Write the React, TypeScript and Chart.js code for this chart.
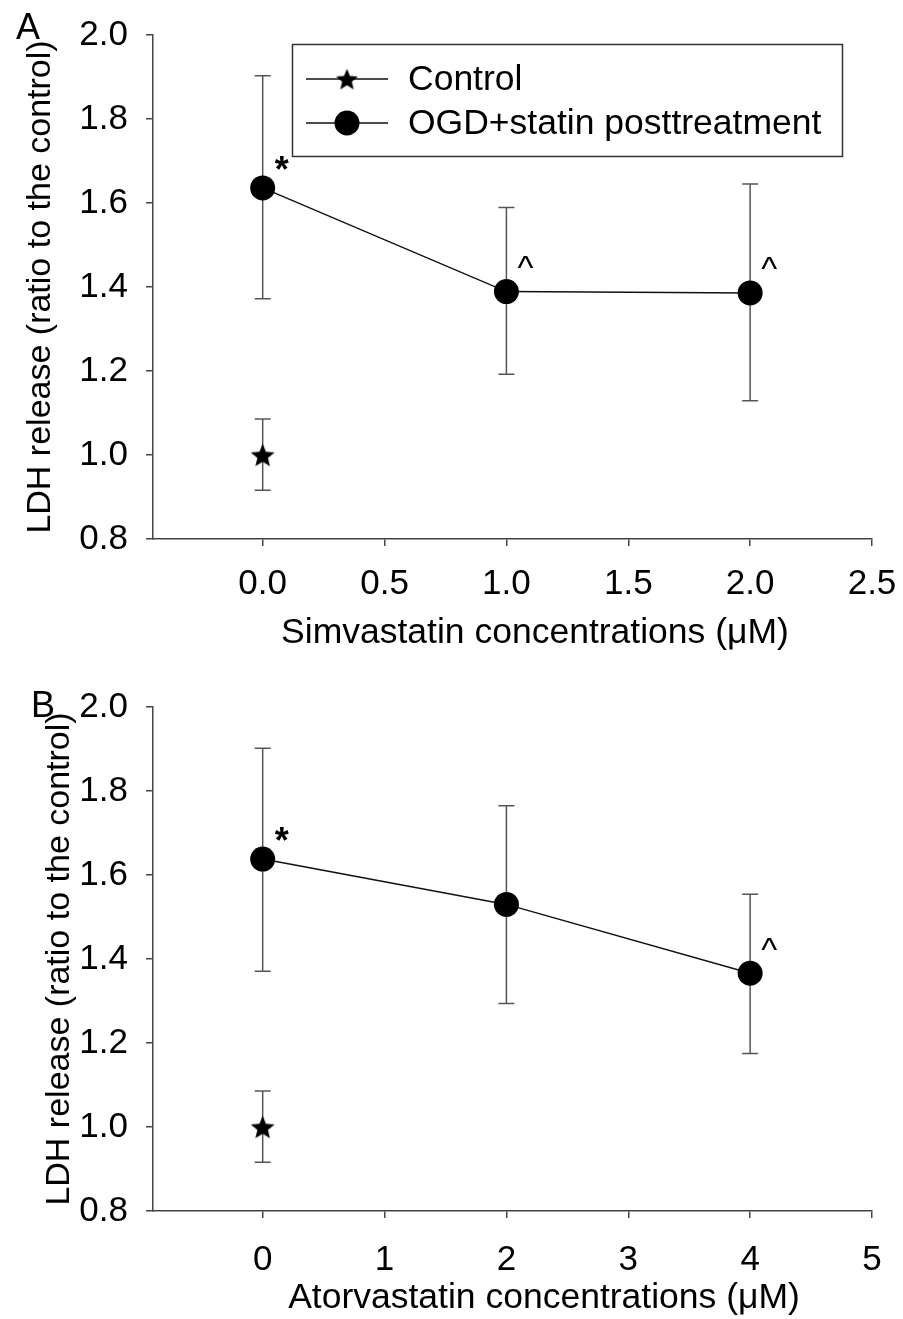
import React, { useEffect, useRef } from 'react';
import { Chart, registerables } from 'chart.js';
Chart.register(...registerables);

// ---- data ----
const simConc = [0, 1, 2];
const simMean = [1.636, 1.389, 1.386];
const simHigh = [1.903, 1.589, 1.645];
const simLow = [1.372, 1.192, 1.129];
const simMarks = ['*', '^', '^'];

const atorConc = [0, 2, 4];
const atorMean = [1.638, 1.53, 1.366];
const atorHigh = [1.902, 1.765, 1.554];
const atorLow = [1.371, 1.294, 1.175];
const atorMarks = ['*', '', '^'];

const controlConc = [0];
const controlMean = [1.0];
const controlHigh = [1.086];
const controlLow = [0.916];

const yTicks = [0.8, 1.0, 1.2, 1.4, 1.6, 1.8, 2.0];
const simTicks = [0, 0.5, 1.0, 1.5, 2.0, 2.5];
const atorTicks = [0, 1, 2, 3, 4, 5];

const legendLabels = ['Control', 'OGD+statin posttreatment'];
const yTitle = 'LDH release (ratio to the control)';
const simTitle = 'Simvastatin concentrations (\u03BCM)';
const atorTitle = 'Atorvastatin concentrations (\u03BCM)';

const FONT = '"Liberation Sans", Arial, Helvetica, sans-serif';
const AXIS = '#444';
const CANVAS_W = 903;
const CANVAS_H = 660;

function makeStar(r: number) {
  const size = Math.ceil(r * 2 + 2);
  const c = document.createElement('canvas');
  c.width = size;
  c.height = size;
  const ctx = c.getContext('2d')!;
  ctx.fillStyle = '#000';
  ctx.beginPath();
  for (let i = 0; i < 10; i++) {
    const rad = i % 2 === 0 ? r : r * 0.44;
    const a = -Math.PI / 2 + (i * Math.PI) / 5;
    const px = size / 2 + rad * Math.cos(a);
    const py = size / 2 + rad * Math.sin(a) + r * 0.1;
    if (i === 0) ctx.moveTo(px, py);
    else ctx.lineTo(px, py);
  }
  ctx.closePath();
  ctx.fill();
  return c;
}

type PanelCfg = {
  top: number;
  letter: string;
  letterX: number;
  letterY: number;
  yTitleX: number;
  xTitle: string;
  xTitleX: number;
  xTitleOffset: number;
  xTickPad: number;
  areaTop: number;
  areaBottom: number;
  xMin: number;
  xMax: number;
  xTicks: number[];
  decimals: number;
  conc: number[];
  mean: number[];
  high: number[];
  low: number[];
  marks: string[];
  legend: boolean;
};

function Panel({ cfg }: { cfg: PanelCfg }) {
  const ref = useRef<HTMLCanvasElement>(null);
  useEffect(() => {
    const star = makeStar(12.5);
    const legendStar = makeStar(11.5);
    const plugin = {
      id: 'extras',
      beforeDatasetsDraw(chart: any) {
        const ctx = chart.ctx;
        const xs = chart.scales.x;
        const ys = chart.scales.y;
        ctx.save();
        ctx.strokeStyle = '#555';
        ctx.lineWidth = 1.5;
        const drawBars = (conc: number[], hi: number[], lo: number[]) => {
          conc.forEach((c, i) => {
            const px = xs.getPixelForValue(c);
            const pt = ys.getPixelForValue(hi[i]);
            const pb = ys.getPixelForValue(lo[i]);
            ctx.beginPath();
            ctx.moveTo(px, pt);
            ctx.lineTo(px, pb);
            ctx.moveTo(px - 8, pt);
            ctx.lineTo(px + 8, pt);
            ctx.moveTo(px - 8, pb);
            ctx.lineTo(px + 8, pb);
            ctx.stroke();
          });
        };
        drawBars(controlConc, controlHigh, controlLow);
        drawBars(cfg.conc, cfg.high, cfg.low);
        ctx.restore();
      },
      afterDraw(chart: any) {
        const ctx = chart.ctx;
        const area = chart.chartArea;
        const xs = chart.scales.x;
        const ys = chart.scales.y;
        ctx.save();
        ctx.fillStyle = '#000';
        // panel letter
        ctx.font = `36px ${FONT}`;
        ctx.textAlign = 'center';
        ctx.textBaseline = 'middle';
        ctx.fillText(cfg.letter, cfg.letterX, cfg.letterY);
        // x title
        ctx.font = `35.5px ${FONT}`;
        ctx.fillText(cfg.xTitle, cfg.xTitleX, area.bottom + cfg.xTitleOffset);
        // y title
        ctx.font = `34px ${FONT}`;
        ctx.save();
        ctx.translate(cfg.yTitleX, (area.top + area.bottom) / 2);
        ctx.rotate(-Math.PI / 2);
        ctx.fillText(yTitle, 0, 0);
        ctx.restore();
        // significance marks
        cfg.conc.forEach((c, i) => {
          const m = cfg.marks[i];
          if (!m) return;
          const px = xs.getPixelForValue(c);
          const py = ys.getPixelForValue(cfg.mean[i]);
          if (m === '*') {
            ctx.font = `bold 36px ${FONT}`;
            ctx.fillText(m, px + 19, py - 16);
          } else {
            ctx.font = `34px ${FONT}`;
            ctx.fillText(m, px + 19, py - 22);
          }
        });
        // legend
        if (cfg.legend) {
          ctx.strokeStyle = '#333';
          ctx.lineWidth = 1.5;
          ctx.strokeRect(292.5, 44.5, 550, 112);
          const rows = [79, 123];
          rows.forEach((ry, i) => {
            ctx.strokeStyle = '#111';
            ctx.beginPath();
            ctx.moveTo(306, ry);
            ctx.lineTo(388, ry);
            ctx.stroke();
            if (i === 0) {
              ctx.drawImage(legendStar, 347 - legendStar.width / 2, ry - legendStar.height / 2);
            } else {
              ctx.beginPath();
              ctx.arc(347, ry, 12.5, 0, Math.PI * 2);
              ctx.fill();
            }
            ctx.font = `35.5px ${FONT}`;
            ctx.textAlign = 'left';
            ctx.textBaseline = 'middle';
            ctx.fillText(legendLabels[i], 408, ry + 1);
          });
        }
        ctx.restore();
      },
    };

    const chart = new Chart(ref.current!, {
      type: 'scatter',
      data: {
        datasets: [
          {
            label: legendLabels[1],
            data: cfg.conc.map((c, i) => ({ x: c, y: cfg.mean[i] })),
            showLine: true,
            borderColor: '#111',
            borderWidth: 1.5,
            pointRadius: 12.5,
            pointBackgroundColor: '#000',
            pointBorderColor: '#000',
            pointBorderWidth: 0,
          },
          {
            label: legendLabels[0],
            data: controlConc.map((c, i) => ({ x: c, y: controlMean[i] })),
            showLine: false,
            pointStyle: star as any,
            pointRadius: 12.5,
          },
        ],
      },
      options: {
        responsive: false,
        animation: false,
        events: [],
        layout: { padding: { left: 0, right: CANVAS_W - 872, top: cfg.areaTop, bottom: 0 } },
        plugins: { legend: { display: false }, tooltip: { enabled: false } },
        scales: {
          x: {
            type: 'linear',
            min: cfg.xMin,
            max: cfg.xMax,
            afterBuildTicks: (s: any) => {
              s.ticks = cfg.xTicks.map((v) => ({ value: v }));
            },
            afterFit: (s: any) => {
              s.height = CANVAS_H - cfg.areaBottom;
              s.paddingLeft = 0;
              s.paddingRight = 0;
            },
            ticks: {
              padding: cfg.xTickPad,
              color: '#000',
              font: { family: FONT, size: 35 },
              maxRotation: 0,
              autoSkip: false,
              callback: (v: any) => Number(v).toFixed(cfg.decimals),
            },
            grid: { drawOnChartArea: false, drawTicks: true, tickLength: 7, color: AXIS, lineWidth: 1.5 },
            border: { display: true, color: AXIS, width: 1.5 },
          },
          y: {
            type: 'linear',
            min: 0.8,
            max: 2.0,
            afterBuildTicks: (s: any) => {
              s.ticks = yTicks.map((v) => ({ value: v }));
            },
            afterFit: (s: any) => {
              s.width = 153;
              s.paddingTop = 0;
              s.paddingBottom = 0;
            },
            ticks: {
              padding: 18,
              color: '#000',
              font: { family: FONT, size: 35 },
              autoSkip: false,
              callback: (v: any) => Number(v).toFixed(1),
            },
            grid: { drawOnChartArea: false, drawTicks: true, tickLength: 7, color: AXIS, lineWidth: 1.5 },
            border: { display: true, color: AXIS, width: 1.5 },
          },
        },
      },
      plugins: [plugin],
    } as any);
    return () => chart.destroy();
  }, []);
  return (
    <canvas
      ref={ref}
      width={CANVAS_W}
      height={CANVAS_H}
      style={{ position: 'absolute', left: 0, top: cfg.top, width: CANVAS_W, height: CANVAS_H, display: 'block' }}
    />
  );
}

const panelA: PanelCfg = {
  top: 0,
  letter: 'A',
  letterX: 28,
  letterY: 29,
  yTitleX: 41,
  xTitle: simTitle,
  xTitleX: 535,
  xTitleOffset: 94,
  xTickPad: 17,
  areaTop: 35,
  areaBottom: 539,
  xMin: -0.45,
  xMax: 2.5,
  xTicks: simTicks,
  decimals: 1,
  conc: simConc,
  mean: simMean,
  high: simHigh,
  low: simLow,
  marks: simMarks,
  legend: true,
};

const panelB: PanelCfg = {
  top: 659,
  letter: 'B',
  letterX: 43,
  letterY: 48,
  yTitleX: 60,
  xTitle: atorTitle,
  xTitleX: 544,
  xTitleOffset: 87,
  xTickPad: 21,
  areaTop: 48,
  areaBottom: 552,
  xMin: -0.9,
  xMax: 5,
  xTicks: atorTicks,
  decimals: 0,
  conc: atorConc,
  mean: atorMean,
  high: atorHigh,
  low: atorLow,
  marks: atorMarks,
  legend: false,
};

export default function App() {
  return (
    <div style={{ position: 'absolute', left: 0, top: 0, width: CANVAS_W, height: 1319, background: '#fff' }}>
      <Panel cfg={panelA} />
      <Panel cfg={panelB} />
    </div>
  );
}
